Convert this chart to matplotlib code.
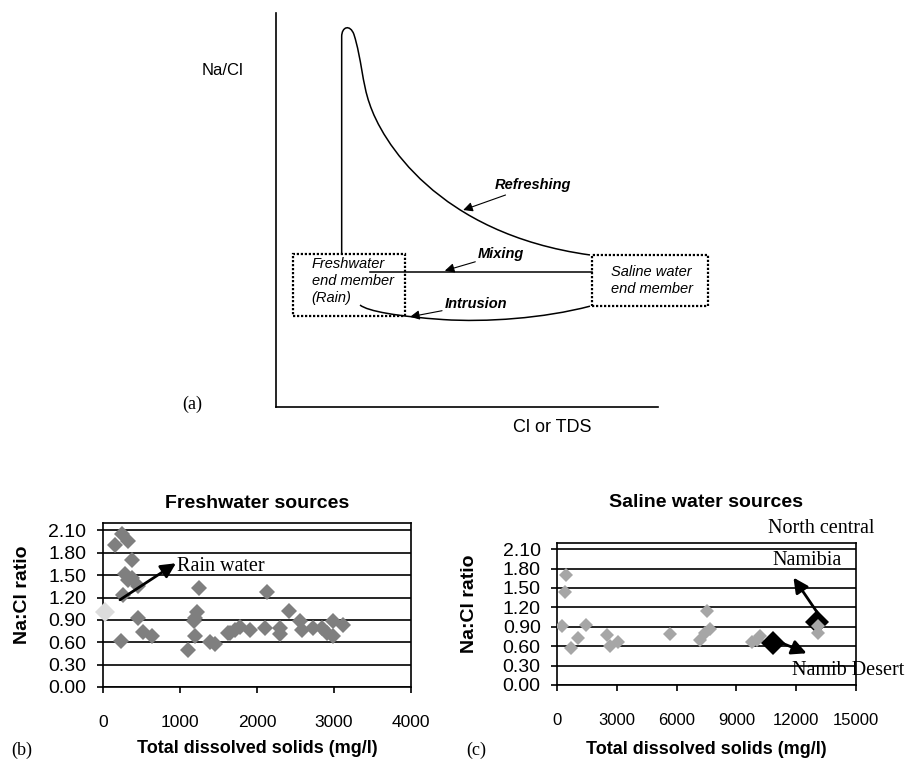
#!/usr/bin/env python3
import numpy as np
import matplotlib.pyplot as plt
from matplotlib.path import Path
from matplotlib.patches import PathPatch

plt.rcParams.update({
    "font.family": "Liberation Sans",
    "axes.linewidth": 1.2,
    "xtick.direction": "out",
    "ytick.direction": "out",
})
SERIF = "Liberation Serif"

# ---- panel (a): schematic, in relative units (Cl or TDS 0-100, Na/Cl 0-100)
# Bezier control points (moveto / lineto / cubic segments)
refresh_pts = [(17.2, 39.0), (17.2, 94.0),
               (17.2, 96.6), (19.4, 97.2), (20.4, 94.6),
               (22.4, 88.5), (22.6, 82.0), (24.5, 77.0),
               (27.5, 68.0), (42.0, 44.0), (82.2, 38.6)]
refresh_codes = [Path.MOVETO, Path.LINETO] + [Path.CURVE4] * 9
intrusion_pts = [(22.0, 25.9),
                 (24.0, 24.3), (32.0, 23.0), (43.8, 22.2),
                 (55.0, 21.5), (70.0, 22.5), (82.2, 25.6)]
intrusion_codes = [Path.MOVETO] + [Path.CURVE4] * 6
mixing_x = [24.6, 82.6]
mixing_y = [34.3, 34.3]
fresh_box = (4.4, 23.0, 29.4, 15.8)     # x, y, width, height
saline_box = (82.6, 25.6, 30.6, 13.0)

# ---- panel (b): freshwater sources
fresh_tds = [243, 156, 329, 372, 286, 329, 372, 459, 264, 459, 524, 632, 230,
             1251, 1217, 1200, 1185, 1195, 1108, 1390, 1455, 1628, 1649, 1714,
             1779, 1909, 2104, 2134, 2299, 2299, 2420, 2558, 2580, 2731, 2840,
             2905, 2991, 2991, 3121]
fresh_ratio = [2.05, 1.91, 1.96, 1.71, 1.51, 1.44, 1.46, 1.35, 1.24, 0.92, 0.74,
               0.69, 0.62, 1.33, 1.01, 0.92, 0.88, 0.69, 0.50, 0.61, 0.58, 0.72,
               0.72, 0.77, 0.81, 0.77, 0.79, 1.27, 0.79, 0.71, 1.02, 0.88, 0.77,
               0.79, 0.79, 0.72, 0.88, 0.68, 0.83]
rain_tds = [26]
rain_ratio = [1.01]

# ---- panel (c): saline water sources
saline_tds = [422, 387, 251, 688, 1055, 1442, 2482, 2648, 3065, 5663, 7507,
              7673, 7170, 7420, 9769, 10186, 10020, 13116, 13116]
saline_ratio = [1.70, 1.43, 0.91, 0.57, 0.73, 0.93, 0.78, 0.60, 0.67, 0.79,
                1.14, 0.86, 0.70, 0.80, 0.67, 0.75, 0.70, 0.91, 0.80]
ncn_tds = [13035]      # North central Namibia
ncn_ratio = [0.98]
namib_tds = [10855]    # Namib Desert
namib_ratio = [0.65]

ratio_ticks = [0.0, 0.3, 0.6, 0.9, 1.2, 1.5, 1.8, 2.1]
fresh_xticks = [0, 1000, 2000, 3000, 4000]
saline_xticks = [0, 3000, 6000, 9000, 12000, 15000]


def style_scatter_axes(ax, xticks, xmax, ytick_size, xtick_size):
    ax.set_xlim(0, xmax)
    ax.set_ylim(0, 2.2)
    ax.set_xticks(xticks)
    ax.set_xticklabels([str(t) for t in xticks], fontsize=xtick_size)
    ax.set_yticks(ratio_ticks)
    ax.set_yticklabels(["%.2f" % t for t in ratio_ticks], fontsize=ytick_size)
    ax.tick_params(axis="x", length=4, width=1.2, pad=16)
    ax.tick_params(axis="y", length=4, width=1.2, pad=8)
    ax.yaxis.grid(True, color="black", linewidth=1.2)
    ax.set_axisbelow(True)


fig = plt.figure(figsize=(9.12, 7.68), dpi=100)

# ---------------- (a)
ax_a = fig.add_axes([0.3026, 0.470, 0.4189, 0.513])
ax_a.set_xlim(0, 100)
ax_a.set_ylim(0, 100)
ax_a.spines["top"].set_visible(False)
ax_a.spines["right"].set_visible(False)
ax_a.set_xticks([])
ax_a.set_yticks([])
ax_a.patch.set_alpha(0)

ax_a.add_patch(PathPatch(Path(refresh_pts, refresh_codes), fill=False,
                         edgecolor="black", lw=1.1, clip_on=False))
ax_a.add_patch(PathPatch(Path(intrusion_pts, intrusion_codes), fill=False,
                         edgecolor="black", lw=1.1))
ax_a.plot(mixing_x, mixing_y, color="black", lw=1.1)
for bx, by, bw, bh in (fresh_box, saline_box):
    ax_a.add_patch(plt.Rectangle((bx, by), bw, bh, fill=False, edgecolor="black",
                                 lw=1.6, ls=(0, (1, 0.8)), clip_on=False))

ax_a.text(9.3, 32.0, "Freshwater\nend member\n(Rain)", fontsize=10.5,
          style="italic", va="center", linespacing=1.25)
ax_a.text(87.6, 32.2, "Saline water\nend member", fontsize=10.5,
          style="italic", va="center", linespacing=1.25, clip_on=False)

arrow_thin = dict(arrowstyle="-|>", color="black", lw=0.8, mutation_scale=14,
                  shrinkA=0, shrinkB=0)
ax_a.annotate("Refreshing", xy=(49.0, 50.0), xytext=(57.3, 56.3),
              fontsize=10.5, weight="bold", style="italic", va="center",
              arrowprops=arrow_thin)
ax_a.annotate("Mixing", xy=(44.2, 34.6), xytext=(52.9, 38.8),
              fontsize=10.5, weight="bold", style="italic", va="center",
              arrowprops=arrow_thin)
ax_a.annotate("Intrusion", xy=(35.1, 22.9), xytext=(44.2, 26.1),
              fontsize=10.5, weight="bold", style="italic", va="center",
              arrowprops=arrow_thin)
ax_a.text(-14.1, 85.5, "Na/Cl", fontsize=12, ha="center", va="center")
ax_a.text(72.2, -5.3, "Cl or TDS", fontsize=13, ha="center", va="center")

# ---------------- (b)
ax_b = fig.add_axes([0.1129, 0.1055, 0.3377, 0.2135])
style_scatter_axes(ax_b, fresh_xticks, 4000, 14, 12.5)
ax_b.plot(fresh_tds, fresh_ratio, "D", color="#7f7f7f", ms=8, mew=0, zorder=3)
ax_b.plot(rain_tds, rain_ratio, "D", color="#dcdcdc", ms=10, mew=0, zorder=3,
          clip_on=False)
ax_b.annotate("", xy=(948, 1.66), xytext=(221, 1.17),
              arrowprops=dict(arrowstyle="-|>", color="black", lw=2,
                              mutation_scale=22, shrinkA=0, shrinkB=0))
ax_b.text(957, 1.615, "Rain water", family=SERIF, fontsize=14.5, va="center")
ax_b.text(0.5, 1.122, "Freshwater sources", transform=ax_b.transAxes,
          ha="center", va="center", fontsize=14, weight="bold")
ax_b.set_xlabel("Total dissolved solids (mg/l)", fontsize=13, weight="bold")
ax_b.xaxis.set_label_coords(0.5, -0.378)
ax_b.xaxis.label.set_va("center")
ax_b.set_ylabel("Na:Cl ratio", fontsize=14, weight="bold")
ax_b.yaxis.set_label_coords(-0.261, 0.561)
ax_b.yaxis.label.set_va("center")

# ---------------- (c)
ax_c = fig.add_axes([0.6111, 0.1081, 0.3272, 0.1853])
style_scatter_axes(ax_c, saline_xticks, 15000, 14, 12)
ax_c.plot(ncn_tds, ncn_ratio, "D", color="black", ms=12, mew=0, zorder=2.5)
ax_c.plot(saline_tds, saline_ratio, "D", color="#a6a6a6", ms=7.5, mew=0, zorder=3)
ax_c.plot(namib_tds, namib_ratio, "D", color="black", ms=12, mew=0, zorder=4)
arrow_thick = dict(arrowstyle="-|>", color="black", lw=2, mutation_scale=22,
                   shrinkA=0, shrinkB=0)
ax_c.annotate("", xy=(11870, 1.66), xytext=(13200, 1.06),
              arrowprops=arrow_thick, zorder=5)
ax_c.annotate("", xy=(12533, 0.49), xytext=(11357, 0.64),
              arrowprops=arrow_thick, zorder=5)
ax_c.text(10588, 2.42, "North central", family=SERIF, fontsize=14.5, va="center")
ax_c.text(10830, 1.93, "Namibia", family=SERIF, fontsize=14.5, va="center")
ax_c.text(11785, 0.23, "Namib Desert", family=SERIF, fontsize=14.5, va="center")
ax_c.text(0.498, 1.281, "Saline water sources", transform=ax_c.transAxes,
          ha="center", va="center", fontsize=14, weight="bold")
ax_c.set_xlabel("Total dissolved solids (mg/l)", fontsize=13, weight="bold")
ax_c.xaxis.set_label_coords(0.5, -0.45)
ax_c.xaxis.label.set_va("center")
ax_c.set_ylabel("Na:Cl ratio", fontsize=14, weight="bold")
ax_c.yaxis.set_label_coords(-0.293, 0.569)
ax_c.yaxis.label.set_va("center")

# panel letters
fig.text(192 / 912, 1 - 404 / 768, "(a)", family=SERIF, fontsize=13,
         ha="center", va="center")
fig.text(21.5 / 912, 1 - 750 / 768, "(b)", family=SERIF, fontsize=13,
         ha="center", va="center")
fig.text(476 / 912, 1 - 750 / 768, "(c)", family=SERIF, fontsize=13,
         ha="center", va="center")

fig.savefig("out.png", dpi=100)
